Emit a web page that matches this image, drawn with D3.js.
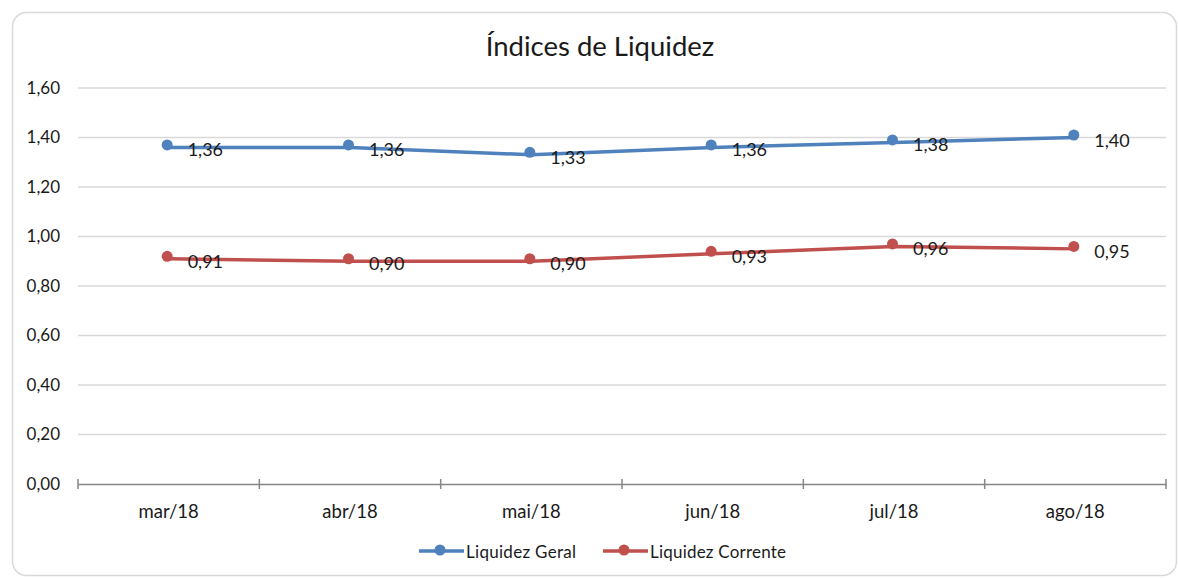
<!DOCTYPE html>
<html>
<head>
<meta charset="utf-8">
<script src="https://cdn.jsdelivr.net/npm/d3@7"></script>
<style>
  body { margin: 0; background: #fff; }
  svg { font-family: Lato, "Open Sans", sans-serif; }
</style>
</head>
<body>
<svg id="chart" width="1178" height="578"></svg>
<script>
const months = ['mar/18', 'abr/18', 'mai/18', 'jun/18', 'jul/18', 'ago/18'];
const liquidezGeral = [1.36, 1.36, 1.33, 1.36, 1.38, 1.40];
const liquidezCorrente = [0.91, 0.90, 0.90, 0.93, 0.96, 0.95];
const yTicks = [0, 0.2, 0.4, 0.6, 0.8, 1.0, 1.2, 1.4, 1.6];

const series = [
	{ name: 'Liquidez Geral', values: liquidezGeral, color: '#4f81bd' },
	{ name: 'Liquidez Corrente', values: liquidezCorrente, color: '#c0504d' }
];

const fmt = v => d3.format('.2f')(v).replace('.', ',');

const svg = d3.select('#chart');
const margin = { left: 78, right: 1166, top: 88, bottom: 484 };

// chart frame
svg.append('rect')
	.attr('x', 12.5).attr('y', 12.5)
	.attr('width', 1164).attr('height', 563)
	.attr('rx', 14)
	.attr('fill', '#fff')
	.attr('stroke', '#d9d9d9')
	.attr('stroke-width', 1.5);

svg.append('text')
	.attr('x', 600).attr('y', 56)
	.attr('text-anchor', 'middle')
	.attr('font-size', '27.5px')
	.attr('fill', '#1a1a1a')
	.text('Índices de Liquidez');

const x = d3.scaleBand()
	.domain(months)
	.range([margin.left, margin.right]);

const y = d3.scaleLinear()
	.domain([0, 1.6])
	.range([margin.bottom, margin.top]);

// gridlines
svg.append('g')
	.selectAll('line')
	.data(yTicks.filter(d => d > 0))
	.enter().append('line')
		.attr('x1', margin.left).attr('x2', margin.right)
		.attr('y1', d => y(d)).attr('y2', d => y(d))
		.attr('stroke', '#d9d9d9')
		.attr('stroke-width', 1.5);

// y axis labels
const yAxis = svg.append('g')
	.attr('transform', `translate(${margin.left},0)`)
	.call(d3.axisLeft(y).tickValues(yTicks).tickFormat(fmt).tickSize(0).tickPadding(18));
yAxis.select('.domain').remove();
yAxis.selectAll('text')
	.attr('font-size', '17px')
	.attr('font-family', 'Lato, sans-serif')
	.attr('fill', '#1a1a1a');

// x axis
const xAxis = svg.append('g')
	.attr('transform', `translate(0,${margin.bottom})`)
	.call(d3.axisBottom(x).tickSize(0).tickPadding(0));
xAxis.select('.domain')
	.attr('stroke', '#868686')
	.attr('stroke-width', 1.5);
xAxis.selectAll('text')
	.attr('y', 34)
	.attr('dy', null)
	.attr('font-size', '18.5px')
	.attr('font-family', 'Lato, sans-serif')
	.attr('fill', '#1a1a1a');

// category boundary ticks
const boundaries = months.map(m => x(m)).concat([margin.right]);
svg.append('g')
	.selectAll('line')
	.data(boundaries)
	.enter().append('line')
		.attr('x1', d => d).attr('x2', d => d)
		.attr('y1', margin.bottom - 5).attr('y2', margin.bottom + 5)
		.attr('stroke', '#868686')
		.attr('stroke-width', 1.5);

const cx = (d, i) => x(months[i]) + x.bandwidth() / 2;

const line = d3.line()
	.x((d, i) => cx(d, i))
	.y(d => y(d));

series.forEach(s => {
	const g = svg.append('g');

	g.append('path')
		.datum(s.values)
		.attr('d', line)
		.attr('fill', 'none')
		.attr('stroke', s.color)
		.attr('stroke-width', 3.5)
		.attr('stroke-linejoin', 'round');

	g.selectAll('circle')
		.data(s.values)
		.enter().append('circle')
			.attr('cx', (d, i) => cx(d, i) - 1.5)
			.attr('cy', d => y(d) - 2.5)
			.attr('r', 5.5)
			.attr('fill', s.color);

	g.selectAll('text')
		.data(s.values)
		.enter().append('text')
			.attr('x', (d, i) => cx(d, i) + 19)
			.attr('y', d => y(d) + 9)
			.attr('font-size', '18px')
			.attr('fill', '#1a1a1a')
			.text(fmt);
});

// legend
const legendItems = [
	{ x: 419, s: series[0], w: 110 },
	{ x: 603, s: series[1], w: 136 }
];
const legend = svg.append('g');
legendItems.forEach(item => {
	legend.append('line')
		.attr('x1', item.x).attr('x2', item.x + 45)
		.attr('y1', 551).attr('y2', 551)
		.attr('stroke', item.s.color)
		.attr('stroke-width', 3.5);
	legend.append('circle')
		.attr('cx', item.x + 21).attr('cy', 550)
		.attr('r', 5.5)
		.attr('fill', item.s.color);
	legend.append('text')
		.attr('x', item.x + 47).attr('y', 558)
		.attr('font-size', '17px')
		.attr('textLength', item.w)
		.attr('fill', '#1a1a1a')
		.text(item.s.name);
});
</script>
</body>
</html>
